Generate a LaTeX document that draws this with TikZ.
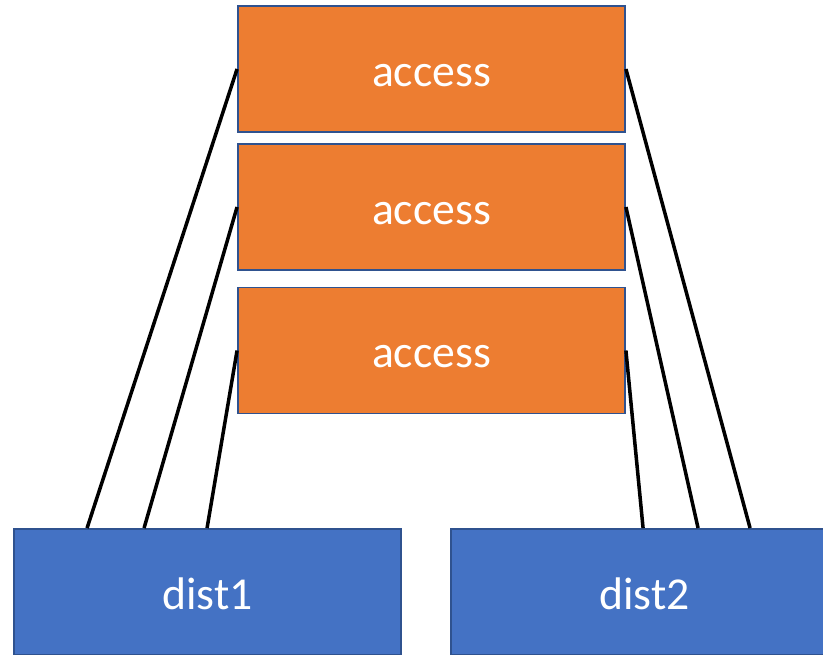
\documentclass[tikz,border=0pt]{standalone}
\usepackage{fontspec}
\setmainfont{Carlito}
\usetikzlibrary{calc, positioning}
\definecolor{accfill}{HTML}{ED7D31}
\definecolor{distfill}{HTML}{4472C4}
\definecolor{boxline}{HTML}{2F528F}

\begin{document}
\begin{tikzpicture}[
  x=0.02cm, y=-0.02cm,
  acc/.style={rectangle, draw=boxline, line width=1.1pt, fill=accfill, text=white,
    minimum width=7.74cm, minimum height=2.52cm, text height=0.7cm,
    font=\fontsize{26}{30}\selectfont},
  dist/.style={acc, fill=distfill},
  link/.style={line width=2pt, black}
]
\useasboundingbox (0,0) rectangle (823,654);
\clip (0,0) rectangle (823,654);

% access boxes
\node[acc] (a1) at (431.5,69) {access};
\node[acc] (a2) at (431.5,207) {access};
\node[acc] (a3) at (431.5,350.5) {access};

% distribution boxes
\node[dist] (d1) at (207.5,592) {dist1};
\node[dist] (d2) at (644.5,592) {dist2};

% links to dist1
\draw[link] (a1.west) -- ($(d1.north west)+(74,0)$);
\draw[link] (a2.west) -- ($(d1.north west)+(131,0)$);
\draw[link] (a3.west) -- ($(d1.north west)+(194,0)$);

% links to dist2
\draw[link] (a1.east) -- ($(d2.north west)+(300,0)$);
\draw[link] (a2.east) -- ($(d2.north west)+(248,0)$);
\draw[link] (a3.east) -- ($(d2.north west)+(193,0)$);

\end{tikzpicture}
\end{document}
